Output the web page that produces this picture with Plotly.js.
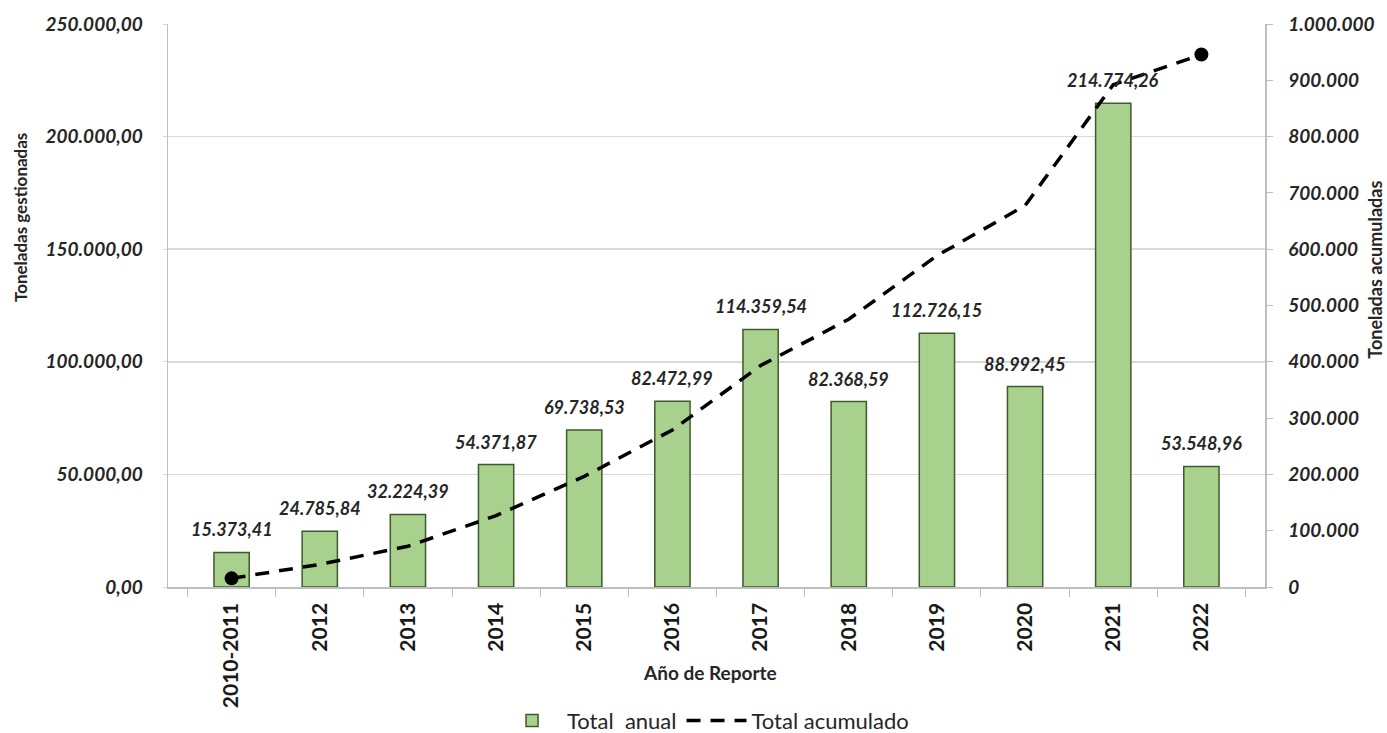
<!DOCTYPE html>
<html>
<head>
<meta charset="utf-8">
<script src="https://cdn.plot.ly/plotly-3.0.1.min.js"></script>
<style>html,body{margin:0;padding:0;background:#fff;}#chart{width:1387px;height:733px;}</style>
</head>
<body>
<div id="chart"></div>
<script>
const years = ["2010-2011","2012","2013","2014","2015","2016","2017","2018","2019","2020","2021","2022"];
const totalAnual = [15373.41,24785.84,32224.39,54371.87,69738.53,82472.99,114359.54,82368.59,112726.15,88992.45,214774.26,53548.96];
const totalAcumulado = [15373,40159,72384,126756,196494,278967,393327,475695,588421,677414,892188,945737];
const leftTicks = [0,50000,100000,150000,200000,250000];
const rightTicks = [0,100000,200000,300000,400000,500000,600000,700000,800000,900000,1000000];
const markerSizes = [14,0,0,0,0,0,0,0,0,0,0,14];

const FONT = "Lato, 'Open Sans', sans-serif";
const tickFont = {family: FONT, size: 19, color: '#262626', weight: 'bold', style: 'italic'};

function fmt(v) {
  const parts = v.toFixed(2).split('.');
  return parts[0].replace(/\B(?=(\d{3})+(?!\d))/g, '.') + ',' + parts[1];
}

const traces = [
  {
    type: 'bar', name: 'Total  anual', x: years, y: totalAnual,
    marker: {color: '#a9d18e', line: {color: '#3f5a2c', width: 1.5}},
    width: 0.4,
    hoverinfo: 'x+y'
  },
  {
    type: 'scatter', mode: 'lines+markers', name: 'Total acumulado', x: years, y: totalAcumulado,
    yaxis: 'y2',
    line: {color: '#000', width: 3.5, dash: '14px,10px'},
    marker: {color: '#000', size: markerSizes, opacity: 1, line: {width: 0}},
    cliponaxis: false
  }
];

// category index of each year (position on the category axis)
const labelAnnotations = years.map((yr, i) => ({
  x: i, y: totalAnual[i], xref: 'x', yref: 'y', text: fmt(totalAnual[i]),
  showarrow: false, yanchor: 'bottom', xanchor: 'center', yshift: 10,
  font: {family: FONT, size: 18, color: '#262626', weight: 'bold', style: 'italic'}
}));

const layout = {
  width: 1387, height: 733,
  margin: {l: 168, r: 122, t: 24, b: 146, autoexpand: false},
  paper_bgcolor: '#fff', plot_bgcolor: '#fff',
  separators: ',.',
  bargap: 0.6,
  showlegend: true,
  legend: {orientation: 'h', x: 0.49, xanchor: 'center', y: -0.2, yanchor: 'top',
           font: {family: FONT, size: 22, color: '#262626'}, traceorder: 'normal', itemwidth: 60},
  xaxis: {
    type: 'category', tickangle: -90, automargin: false,
    categoryorder: 'array', categoryarray: years,
    tickfont: {family: FONT, size: 21, color: '#1a1a1a', weight: 'bold'},
    showline: true, linecolor: '#bfbfbf', linewidth: 1.5,
    ticks: 'outside', tickson: 'boundaries', ticklen: 8, tickcolor: '#bfbfbf',
    ticklabelstandoff: 6,
    showgrid: false
  },
  yaxis: {
    range: [0, 250000], tickvals: leftTicks, tickformat: ',.2f', automargin: false,
    tickfont: tickFont,
    showgrid: true, gridcolor: '#d9d9d9', gridwidth: 1.5,
    showline: true, linecolor: '#bfbfbf', linewidth: 1.5,
    ticks: 'outside', ticklen: 4, tickcolor: '#d9d9d9',
    ticklabelstandoff: 16,
    zeroline: false
  },
  yaxis2: {
    range: [0, 1000000], tickvals: rightTicks, tickformat: ',d', automargin: false,
    overlaying: 'y', side: 'right',
    tickfont: tickFont,
    showgrid: false, showline: true, linecolor: '#bfbfbf', linewidth: 1.5,
    ticks: 'outside', ticklen: 6, tickcolor: '#bfbfbf',
    ticklabelstandoff: 12,
    zeroline: false
  },
  annotations: labelAnnotations.concat([
    {text: 'Toneladas gestionadas', xref: 'paper', yref: 'paper', x: -0.135, y: 0.657,
     xanchor: 'center', yanchor: 'middle', textangle: -90, showarrow: false,
     font: {family: FONT, size: 17, color: '#262626', weight: 'bold'}},
    {text: 'Toneladas acumuladas', xref: 'paper', yref: 'paper', x: 1.1, y: 0.563,
     xanchor: 'center', yanchor: 'middle', textangle: -90, showarrow: false,
     font: {family: FONT, size: 18, color: '#262626', weight: 'bold'}},
    {text: 'Año de Reporte', xref: 'paper', yref: 'paper', x: 0.494, y: -0.151,
     xanchor: 'center', yanchor: 'middle', showarrow: false,
     font: {family: FONT, size: 19, color: '#262626', weight: 'bold'}}
  ])
};

Plotly.newPlot('chart', traces, layout, {displayModeBar: false, staticPlot: true});
</script>
</body>
</html>
